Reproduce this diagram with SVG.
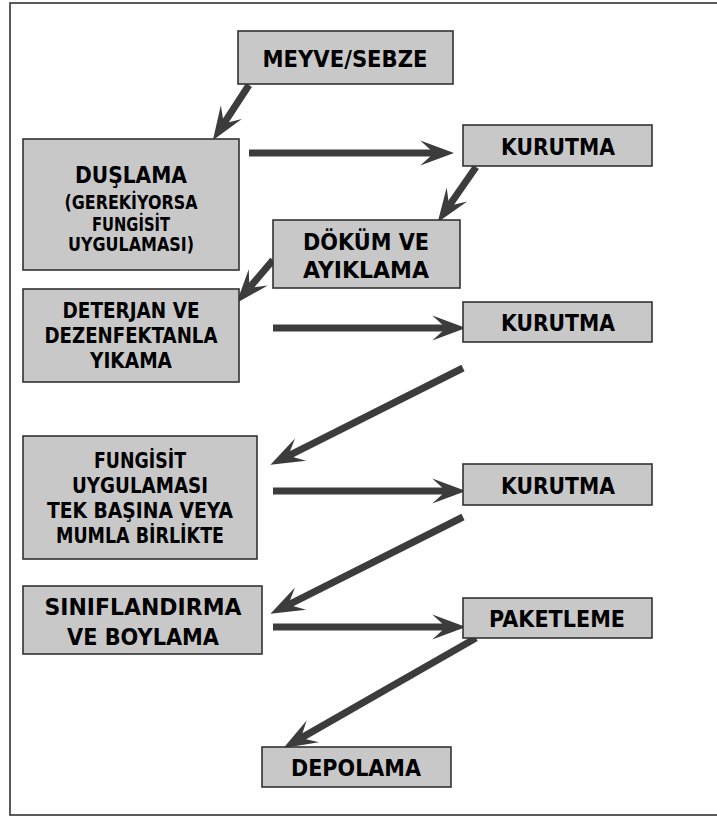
<svg xmlns="http://www.w3.org/2000/svg" width="717" height="819" viewBox="0 0 717 819">
<style>
.box{fill:#c8c8c8;stroke:#333;stroke-width:1.6}
.t{font-family:"DejaVu Sans","Liberation Sans",sans-serif;font-weight:bold;fill:#000;text-anchor:middle}
.l{font-size:23px}
.m{font-size:21px}
.s{font-size:19px}
.c{stroke:#3c3c3c;stroke-width:7;fill:none;marker-end:url(#ah)}
</style>
<defs>
<marker id="ah" markerUnits="userSpaceOnUse" orient="auto" refX="0" refY="0" markerWidth="40" markerHeight="30" viewBox="-12 -12 30 24" overflow="visible">
<path d="M16,0 L-11,-10 L0,0 L-11,10 Z" fill="#3c3c3c"/>
</marker>
</defs>
<rect x="10" y="3" width="730" height="812" fill="#fff" stroke="#333" stroke-width="1.6"/>
<g id="connectors">
<line class="c" x1="249" y1="85" x2="223.8" y2="123.6"/>
<line class="c" x1="249" y1="153" x2="434" y2="153"/>
<line class="c" x1="476" y1="167" x2="449.1" y2="205.8"/>
<line class="c" x1="273" y1="260" x2="249.4" y2="287.8"/>
<line class="c" x1="273" y1="328" x2="446" y2="328"/>
<line class="c" x1="463" y1="368" x2="288.3" y2="455.8"/>
<line class="c" x1="273" y1="491" x2="446" y2="491"/>
<line class="c" x1="463" y1="517" x2="288.3" y2="604.8"/>
<line class="c" x1="273" y1="627" x2="446" y2="627"/>
<line class="c" x1="476" y1="638" x2="300.9" y2="738.1"/>
</g>
<g id="meyve">
<rect class="box" x="238" y="31" width="215" height="53"/>
<text class="t l" x="345" y="67" textLength="165" lengthAdjust="spacingAndGlyphs">MEYVE/SEBZE</text>
</g>
<g id="duslama">
<rect class="box" x="23" y="139" width="216" height="131"/>
<text class="t l" x="131" y="183" textLength="112" lengthAdjust="spacingAndGlyphs">DUŞLAMA</text>
<text class="t s" x="131" y="209" textLength="133" lengthAdjust="spacingAndGlyphs">(GEREKİYORSA</text>
<text class="t s" x="131" y="231" textLength="78" lengthAdjust="spacingAndGlyphs">FUNGİSİT</text>
<text class="t s" x="131" y="251" textLength="126" lengthAdjust="spacingAndGlyphs">UYGULAMASI)</text>
</g>
<g id="kurutma1">
<rect class="box" x="463" y="125" width="189" height="41"/>
<text class="t l" x="558" y="155" textLength="114" lengthAdjust="spacingAndGlyphs">KURUTMA</text>
</g>
<g id="dokum">
<rect class="box" x="273" y="220" width="187" height="68"/>
<text class="t l" x="366" y="250" textLength="126" lengthAdjust="spacingAndGlyphs">DÖKÜM VE</text>
<text class="t l" x="366" y="278" textLength="126" lengthAdjust="spacingAndGlyphs">AYIKLAMA</text>
</g>
<g id="deterjan">
<rect class="box" x="23" y="289" width="216" height="93"/>
<text class="t m" x="131" y="318" textLength="137" lengthAdjust="spacingAndGlyphs">DETERJAN VE</text>
<text class="t m" x="131" y="343" textLength="173" lengthAdjust="spacingAndGlyphs">DEZENFEKTANLA</text>
<text class="t m" x="131" y="368" textLength="82" lengthAdjust="spacingAndGlyphs">YIKAMA</text>
</g>
<g id="kurutma2">
<rect class="box" x="463" y="302" width="189" height="40"/>
<text class="t l" x="558" y="331" textLength="114" lengthAdjust="spacingAndGlyphs">KURUTMA</text>
</g>
<g id="fungisit">
<rect class="box" x="23" y="436" width="234" height="123"/>
<text class="t m" x="140" y="468" textLength="92" lengthAdjust="spacingAndGlyphs">FUNGİSİT</text>
<text class="t m" x="140" y="493" textLength="136" lengthAdjust="spacingAndGlyphs">UYGULAMASI</text>
<text class="t m" x="140" y="518" textLength="186" lengthAdjust="spacingAndGlyphs">TEK BAŞINA VEYA</text>
<text class="t m" x="140" y="543" textLength="168" lengthAdjust="spacingAndGlyphs">MUMLA BİRLİKTE</text>
</g>
<g id="kurutma3">
<rect class="box" x="463" y="464" width="189" height="41"/>
<text class="t l" x="558" y="494" textLength="114" lengthAdjust="spacingAndGlyphs">KURUTMA</text>
</g>
<g id="siniflandirma">
<rect class="box" x="23" y="586" width="239" height="68"/>
<text class="t l" x="143" y="615" textLength="197" lengthAdjust="spacingAndGlyphs">SINIFLANDIRMA</text>
<text class="t l" x="143" y="645" textLength="152" lengthAdjust="spacingAndGlyphs">VE BOYLAMA</text>
</g>
<g id="paketleme">
<rect class="box" x="463" y="598" width="189" height="40"/>
<text class="t l" x="557" y="627" textLength="136" lengthAdjust="spacingAndGlyphs">PAKETLEME</text>
</g>
<g id="depolama">
<rect class="box" x="262" y="747" width="189" height="40"/>
<text class="t l" x="356" y="776" textLength="130" lengthAdjust="spacingAndGlyphs">DEPOLAMA</text>
</g>
</svg>
